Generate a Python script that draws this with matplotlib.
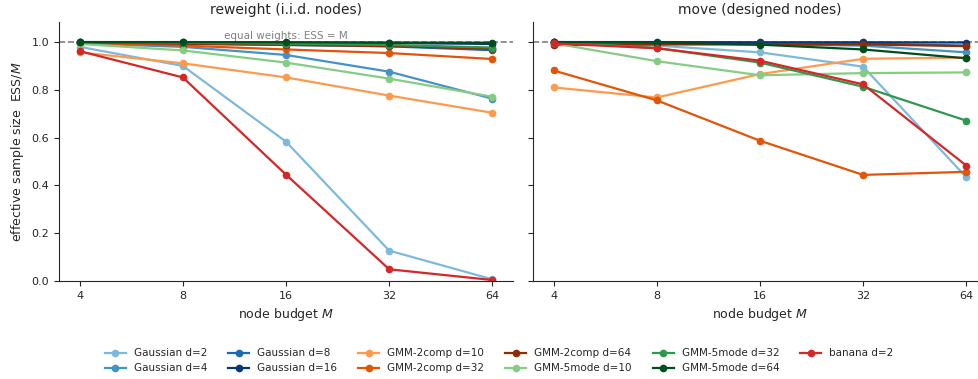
import numpy as np
import matplotlib
matplotlib.use("Agg")
import matplotlib.pyplot as plt

# node budgets
budgets = [4, 8, 16, 32, 64]

labels = [
    "Gaussian d=2", "Gaussian d=4", "Gaussian d=8", "Gaussian d=16",
    "GMM-2comp d=10", "GMM-2comp d=32", "GMM-2comp d=64",
    "GMM-5mode d=10", "GMM-5mode d=32", "GMM-5mode d=64",
    "banana d=2",
]

# ESS / M for i.i.d. nodes with importance reweighting
reweight_gauss2 = [0.980, 0.900, 0.583, 0.127, 0.007]
reweight_gauss4 = [0.994, 0.980, 0.946, 0.876, 0.763]
reweight_gauss8 = [0.998, 0.993, 0.988, 0.982, 0.966]
reweight_gauss16 = [1.000, 0.999, 0.998, 0.996, 0.992]
reweight_gmm2_10 = [0.957, 0.911, 0.852, 0.776, 0.704]
reweight_gmm2_32 = [0.997, 0.985, 0.969, 0.954, 0.929]
reweight_gmm2_64 = [0.999, 0.993, 0.988, 0.983, 0.972]
reweight_gmm5_10 = [0.992, 0.965, 0.914, 0.847, 0.771]
reweight_gmm5_32 = [1.000, 0.997, 0.993, 0.988, 0.977]
reweight_gmm5_64 = [1.000, 1.000, 0.999, 0.998, 0.997]
reweight_banana = [0.962, 0.852, 0.445, 0.049, 0.004]

# ESS / M after moving the nodes
move_gauss2 = [0.996, 0.985, 0.957, 0.897, 0.434]
move_gauss4 = [0.999, 0.995, 0.991, 0.985, 0.957]
move_gauss8 = [1.000, 0.998, 0.996, 0.994, 0.985]
move_gauss16 = [1.000, 1.000, 0.999, 0.999, 0.998]
move_gmm2_10 = [0.810, 0.768, 0.866, 0.930, 0.935]
move_gmm2_32 = [0.881, 0.756, 0.587, 0.444, 0.457]
move_gmm2_64 = [0.987, 0.990, 0.990, 0.990, 0.983]
move_gmm5_10 = [0.995, 0.920, 0.861, 0.870, 0.873]
move_gmm5_32 = [1.000, 0.975, 0.914, 0.813, 0.671]
move_gmm5_64 = [1.000, 0.998, 0.989, 0.969, 0.932]
move_banana = [0.994, 0.974, 0.922, 0.823, 0.483]

reweight = [reweight_gauss2, reweight_gauss4, reweight_gauss8, reweight_gauss16,
            reweight_gmm2_10, reweight_gmm2_32, reweight_gmm2_64,
            reweight_gmm5_10, reweight_gmm5_32, reweight_gmm5_64,
            reweight_banana]
move = [move_gauss2, move_gauss4, move_gauss8, move_gauss16,
        move_gmm2_10, move_gmm2_32, move_gmm2_64,
        move_gmm5_10, move_gmm5_32, move_gmm5_64,
        move_banana]

# one colormap per family, darker for higher dimension
colors = (
    [plt.cm.Blues(v) for v in [0.45, 0.62, 0.78, 0.97]]
    + [plt.cm.Oranges(v) for v in [0.45, 0.7, 0.95]]
    + [plt.cm.Greens(v) for v in [0.45, 0.7, 0.97]]
    + ["#d62728"]
)

plt.rcParams["font.family"] = "DejaVu Sans"
plt.rcParams["text.color"] = "#262626"
plt.rcParams["axes.labelcolor"] = "#262626"
plt.rcParams["xtick.color"] = "#262626"
plt.rcParams["ytick.color"] = "#262626"
plt.rcParams["axes.edgecolor"] = "#262626"

fig = plt.figure(figsize=(9.79, 3.79), dpi=100)
ax1 = fig.add_axes([0.0603, 0.2586, 0.4637, 0.6834])
ax2 = fig.add_axes([0.5444, 0.2586, 0.4637, 0.6834], sharey=ax1)

for ax, data, title in [(ax1, reweight, "reweight (i.i.d. nodes)"),
                        (ax2, move, "move (designed nodes)")]:
    ax.axhline(1.0, color="gray", ls="--", lw=1.2, zorder=1)
    for vals, lab, c in zip(data, labels, colors):
        ax.plot(budgets, vals, "-o", color=c, lw=1.6, ms=4.5, label=lab, zorder=2)
    ax.set_xscale("log", base=2)
    ax.set_xticks(budgets)
    ax.set_xticklabels([str(b) for b in budgets])
    ax.minorticks_off()
    ax.set_ylim(0, 1.084)
    ax.set_yticks([0.0, 0.2, 0.4, 0.6, 0.8, 1.0])
    ax.set_title(title, fontsize=10)
    ax.set_xlabel("node budget $M$", fontsize=9)
    ax.tick_params(labelsize=8)
    ax.spines["top"].set_visible(False)
    ax.spines["right"].set_visible(False)

ax1.set_ylabel("effective sample size  ESS/$M$", fontsize=9)
ax1.text(16, 1.006, "equal weights: ESS = M", ha="center", va="bottom",
         fontsize=7.5, color="gray")
ax2.tick_params(labelleft=False)

handles, labs = ax1.get_legend_handles_labels()
fig.legend(handles, labs, loc="lower center", bbox_to_anchor=(0.51, -0.01),
           ncol=6, frameon=False, fontsize=7.5)

fig.savefig("out.png", dpi=100)
